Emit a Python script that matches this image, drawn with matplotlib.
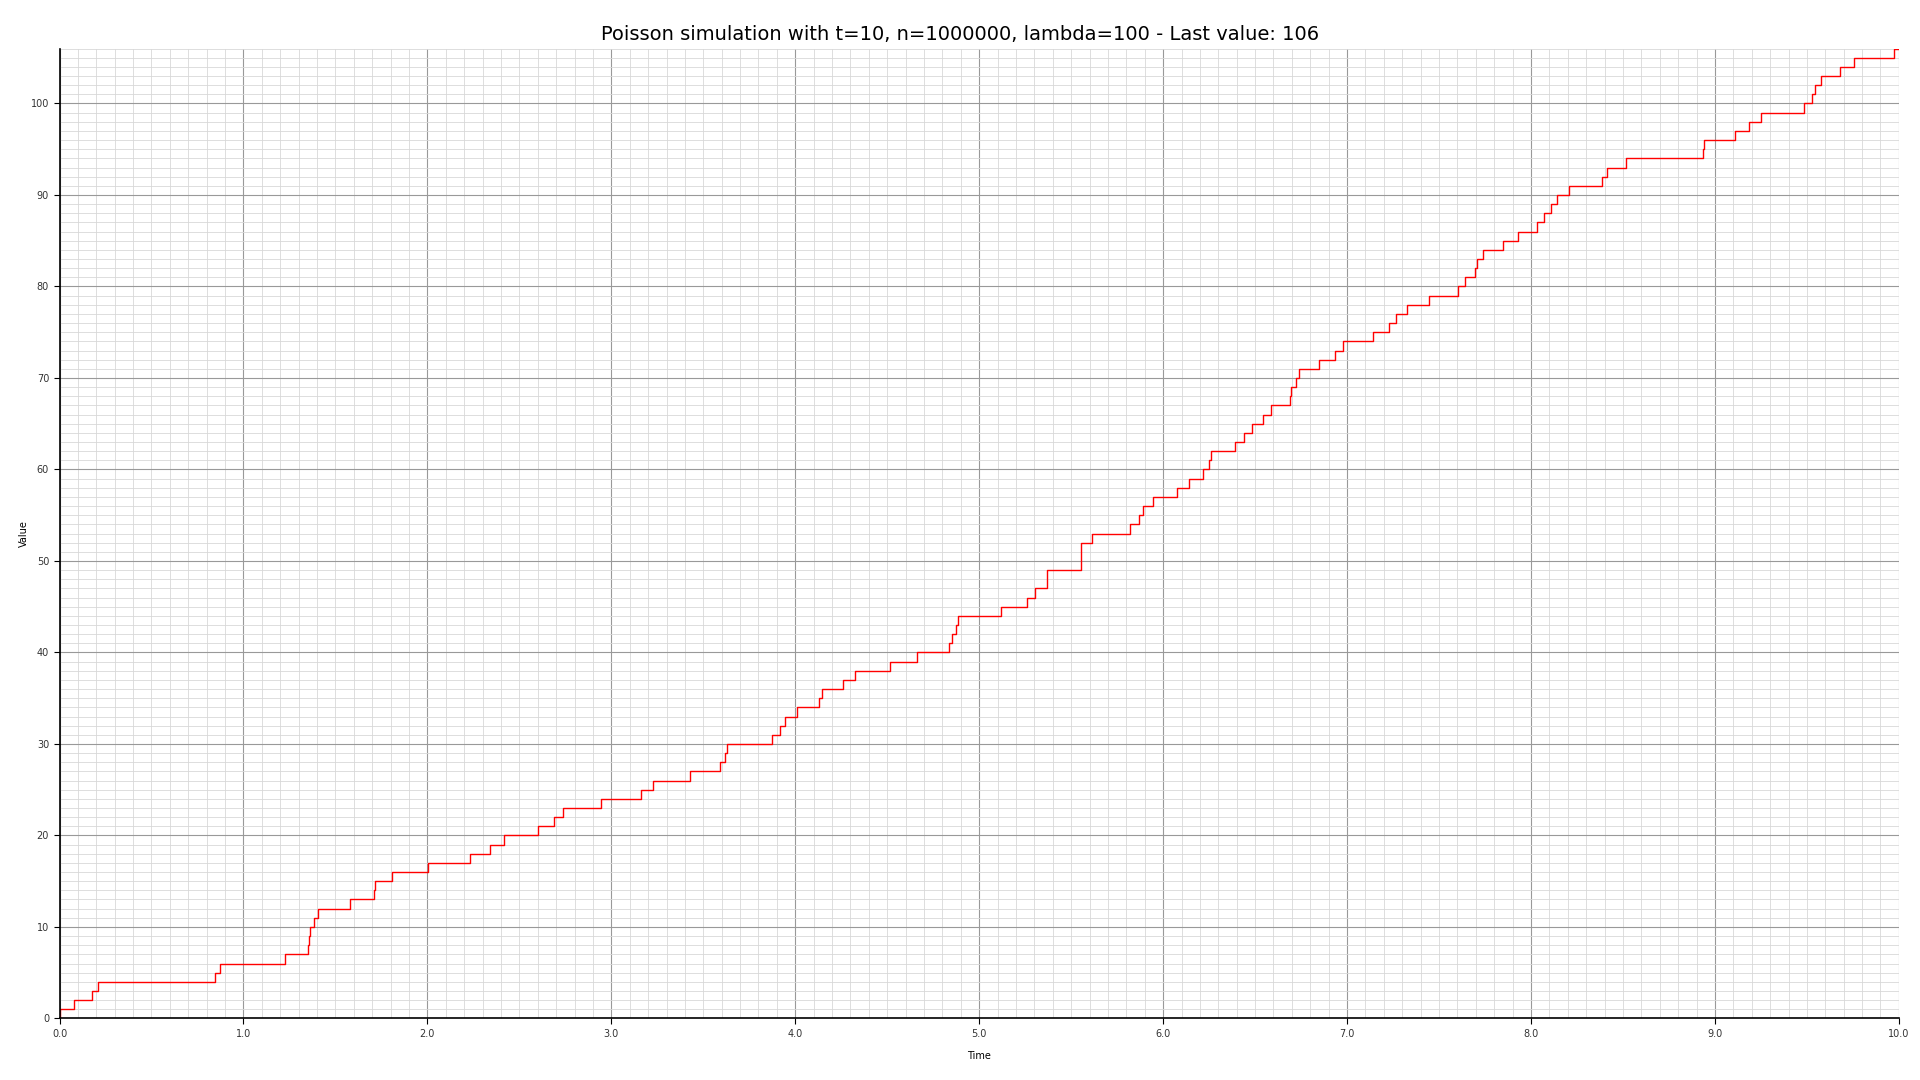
import numpy as np
import matplotlib
matplotlib.use("Agg")
import matplotlib.pyplot as plt
from matplotlib.ticker import MultipleLocator, FormatStrFormatter

# === Dados ===
t_max = 10
n = 1000000
lam = 100

# instantes de chegada (um por evento)
arrival_times = [
    0.002, 0.078, 0.176, 0.209, 0.848, 0.875, 1.227, 1.352, 1.358, 1.363,
    1.383, 1.405, 1.581, 1.711, 1.717, 1.809, 2.004, 2.230, 2.338, 2.414,
    2.604, 2.688, 2.737, 2.944, 3.160, 3.225, 3.426, 3.592, 3.617, 3.628,
    3.873, 3.917, 3.946, 4.007, 4.127, 4.143, 4.260, 4.323, 4.514, 4.661,
    4.835, 4.851, 4.873, 4.884, 5.116, 5.258, 5.301, 5.366, 5.367, 5.553,
    5.554, 5.555, 5.612, 5.819, 5.868, 5.889, 5.944, 6.074, 6.140, 6.216,
    6.250, 6.260, 6.390, 6.439, 6.483, 6.543, 6.586, 6.690, 6.695, 6.722,
    6.739, 6.848, 6.935, 6.978, 7.142, 7.230, 7.267, 7.328, 7.446, 7.604,
    7.642, 7.697, 7.708, 7.740, 7.849, 7.931, 8.032, 8.070, 8.109, 8.141,
    8.207, 8.386, 8.413, 8.516, 8.935, 8.940, 9.109, 9.183, 9.249, 9.483,
    9.526, 9.543, 9.575, 9.681, 9.755, 9.975,
]

# processo de contagem: 0 no início, +1 a cada chegada
times = np.concatenate([[0.0], arrival_times, [t_max]])
counts = np.arange(len(arrival_times) + 1)
counts = np.concatenate([counts, [counts[-1]]])
last_value = counts[-1]

# === Gráfico ===
fig, ax = plt.subplots(figsize=(19.2, 10.8), dpi=100)
ax.step(times, counts, where="post", color="red", linewidth=1.0)

ax.set_xlim(0, t_max)
ax.set_ylim(0, last_value)
ax.xaxis.set_major_locator(MultipleLocator(1))
ax.xaxis.set_minor_locator(MultipleLocator(0.1))
ax.yaxis.set_major_locator(MultipleLocator(10))
ax.yaxis.set_minor_locator(MultipleLocator(1))
ax.xaxis.set_major_formatter(FormatStrFormatter("%.1f"))

ax.grid(which="major", color="#999999", linewidth=0.8)
ax.grid(which="minor", color="#d8d8d8", linewidth=0.6)
ax.set_axisbelow(True)

for s in ("top", "right"):
    ax.spines[s].set_visible(False)
ax.spines["left"].set_linewidth(1.2)
ax.spines["bottom"].set_linewidth(1.2)

ax.tick_params(which="major", labelsize=7, length=4, labelcolor="#333333")
ax.tick_params(which="minor", length=0)

ax.set_xlabel("Time", fontsize=7, labelpad=9)
ax.set_ylabel("Value", fontsize=7, labelpad=1)
fig.suptitle(f"Poisson simulation with t={t_max}, n={n}, lambda={lam} - Last value: {last_value}",
             fontsize=14, x=0.5, y=0.977)

fig.subplots_adjust(left=0.031, right=0.989, top=0.955, bottom=0.057)
fig.savefig("out.png", dpi=100)
